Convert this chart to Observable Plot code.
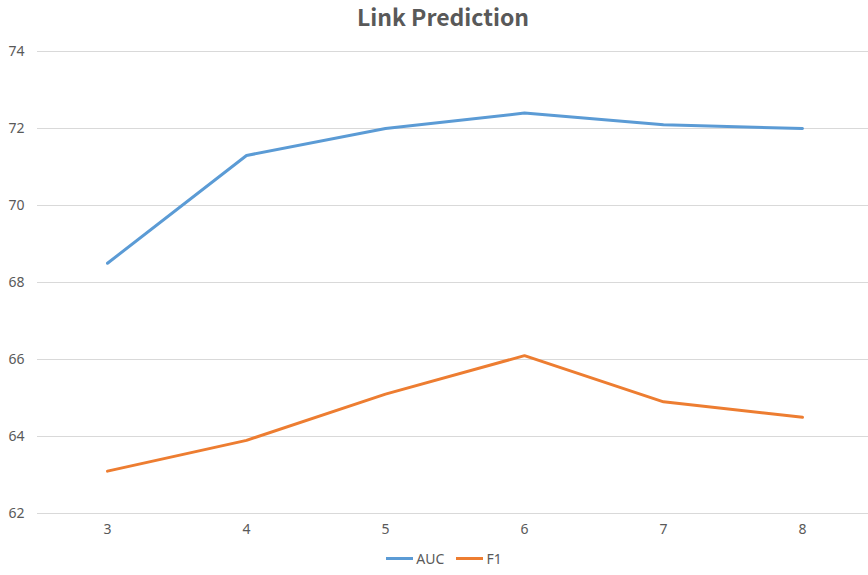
<!DOCTYPE html>
<html>
<head>
<meta charset="utf-8">
<script src="https://cdn.jsdelivr.net/npm/d3@7"></script>
<script src="https://cdn.jsdelivr.net/npm/@observablehq/plot@0.6"></script>
<style>
  body { margin: 0; background: #fff; width: 868px; height: 575px; overflow: hidden; font-family: "Noto Sans", sans-serif; }
  #title { height: 32px; line-height: 32px; text-align: center; font-family: "Noto Sans CJK SC", "Noto Sans", sans-serif; font-weight: bold; font-size: 23px; color: #595959; padding-left: 18px; }
  #legend { height: 33px; display: flex; justify-content: center; align-items: center; gap: 12px; font-size: 14px; color: #595959; padding-left: 20px; }
  .item { display: flex; align-items: center; gap: 3px; }
  .sw { width: 27px; height: 3px; display: inline-block; }
  svg { display: block; }
</style>
</head>
<body>
<div id="title">Link Prediction</div>
<div id="chart"></div>
<div id="legend"></div>
<script>
const categories = ["3", "4", "5", "6", "7", "8"];
const seriesNames = ["AUC", "F1"];
const aucValues = [68.5, 71.3, 72.0, 72.4, 72.1, 72.0];
const f1Values = [63.1, 63.9, 65.1, 66.1, 64.9, 64.5];
const yTicks = [62, 64, 66, 68, 70, 72, 74];
const colors = ["#5B9BD5", "#ED7D31"];

const data = [];
categories.forEach((c, i) => {
  data.push({x: c, y: aucValues[i], s: "AUC"});
  data.push({x: c, y: f1Values[i], s: "F1"});
});

const chart = Plot.plot({
  width: 868,
  height: 510,
  marginLeft: 37,
  marginRight: 0,
  marginTop: 19,
  marginBottom: 29,
  style: {fontSize: "14px", color: "#595959", fontFamily: "'Noto Sans', sans-serif"},
  x: {type: "point", domain: categories, range: [106, 802], padding: 0, label: null},
  y: {domain: [62, 74], ticks: yTicks, label: null},
  color: {domain: seriesNames, range: colors},
  marks: [
    Plot.gridY(yTicks, {stroke: "#d9d9d9", strokeOpacity: 1, strokeWidth: 1}),
    Plot.axisY(yTicks, {tickSize: 0, tickPadding: 13, fill: "#595959", label: null}),
    Plot.axisX({tickSize: 0, tickPadding: 11, fill: "#595959", label: null}),
    Plot.line(data, {x: "x", y: "y", stroke: "s", z: "s", strokeWidth: 3, strokeLinejoin: "round", strokeLinecap: "round"})
  ]
});
document.getElementById("chart").appendChild(chart);

const legend = document.getElementById("legend");
seriesNames.forEach((n, i) => {
  const item = document.createElement("div");
  item.className = "item";
  const sw = document.createElement("span");
  sw.className = "sw";
  sw.style.background = colors[i];
  const t = document.createElement("span");
  t.textContent = n;
  item.appendChild(sw);
  item.appendChild(t);
  legend.appendChild(item);
});
</script>
</body>
</html>
